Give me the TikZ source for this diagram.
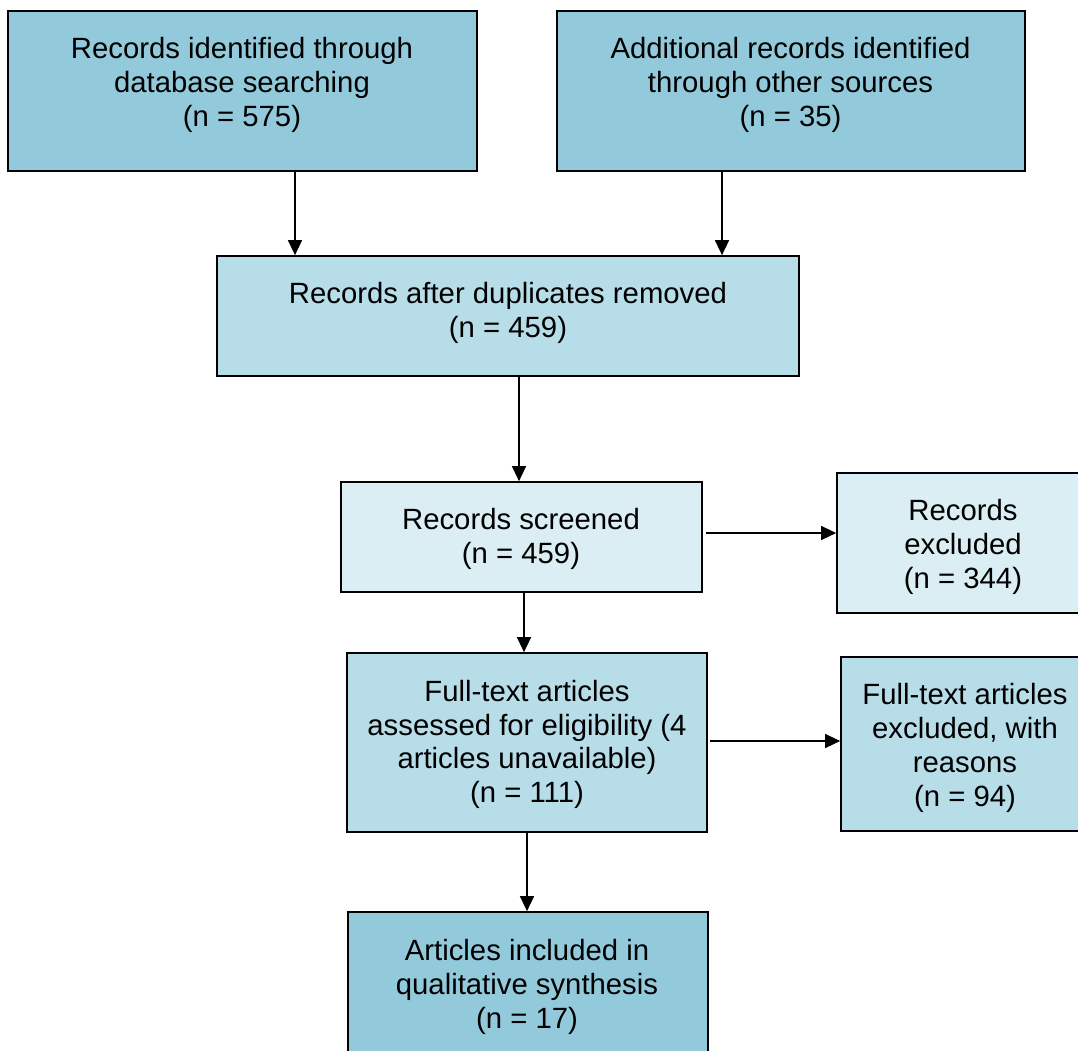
\documentclass[tikz,border=0pt]{standalone}
\usepackage{fontspec}
\setmainfont{Liberation Sans}
\usetikzlibrary{arrows.meta}
\definecolor{boxdark}{HTML}{92CADC}
\definecolor{boxmid}{HTML}{B7DDE8}
\definecolor{boxlight}{HTML}{DAEEF3}
\begin{document}
\begin{tikzpicture}[x=1pt,y=-1pt,
  box/.style={draw=black, line width=1.7pt, rectangle, inner sep=0pt},
  txt/.style={align=center, font=\fontsize{29.3}{33.8}\selectfont, inner sep=0pt},
  arr/.style={line width=1.4pt, -{Triangle[width=14pt,length=15pt]}}]
\useasboundingbox (0,0) rectangle (1078,1050);
\clip (0,0) rectangle (1078,1050);
\fill[white] (0,0) rectangle (1078,1050);

% boxes
\node[box, fill=boxdark, minimum width=469pt, minimum height=160pt] (a) at (242.5,91) {};
\node[box, fill=boxdark, minimum width=468pt, minimum height=160pt] (b) at (791,91) {};
\node[box, fill=boxmid, minimum width=582pt, minimum height=120pt] (c) at (508,316) {};
\node[box, fill=boxlight, minimum width=361pt, minimum height=110pt] (d) at (521.5,537) {};
\node[box, fill=boxlight, minimum width=252pt, minimum height=140pt] (e) at (963,543) {};
\node[box, fill=boxmid, minimum width=360pt, minimum height=179pt] (f) at (527,742.5) {};
\node[box, fill=boxmid, minimum width=248pt, minimum height=174pt] (g) at (965,744) {};
\node[box, fill=boxdark, minimum width=360pt, minimum height=150pt] (h) at (528,987) {};

% texts
\node[txt] (ta) at (242,85) {Records identified through\\database searching\\(n = 575)};
\node[txt] (tb) at (790.5,85) {Additional records identified\\through other sources\\(n = 35)};
\node[txt] (tc) at (508,313) {Records after duplicates removed\\(n = 459)};
\node[txt] (td) at (521,539) {Records screened\\(n = 459)};
\node[txt] (te) at (963,547) {Records\\excluded\\(n = 344)};
\node[txt] (tf) at (527,744.5) {Full-text articles\\assessed for eligibility (4\\articles unavailable)\\(n = 111)};
\node[txt] (tg) at (965,748) {Full-text articles\\excluded, with\\reasons\\(n = 94)};
\node[txt] (th) at (527,987) {Articles included in\\qualitative synthesis\\(n = 17)};

% connector positions
\coordinate (xac) at (295,0);
\coordinate (xbc) at (722,0);
\coordinate (xcd) at (519,0);
\coordinate (xdf) at (524,0);
\coordinate (xfh) at (527,0);
\coordinate (yde) at (0,533);
\coordinate (yfg) at (0,741);

% connectors
\draw[arr] (a.south -| xac) -- (c.north -| xac);
\draw[arr] (b.south -| xbc) -- (c.north -| xbc);
\draw[arr] (c.south -| xcd) -- (d.north -| xcd);
\draw[arr] ([xshift=3pt]d.east |- yde) -- (e.west |- yde);
\draw[arr] (d.south -| xdf) -- (f.north -| xdf);
\draw[arr] ([xshift=2pt]f.east |- yfg) -- (g.west |- yfg);
\draw[arr] (f.south -| xfh) -- (h.north -| xfh);
\end{tikzpicture}
\end{document}
